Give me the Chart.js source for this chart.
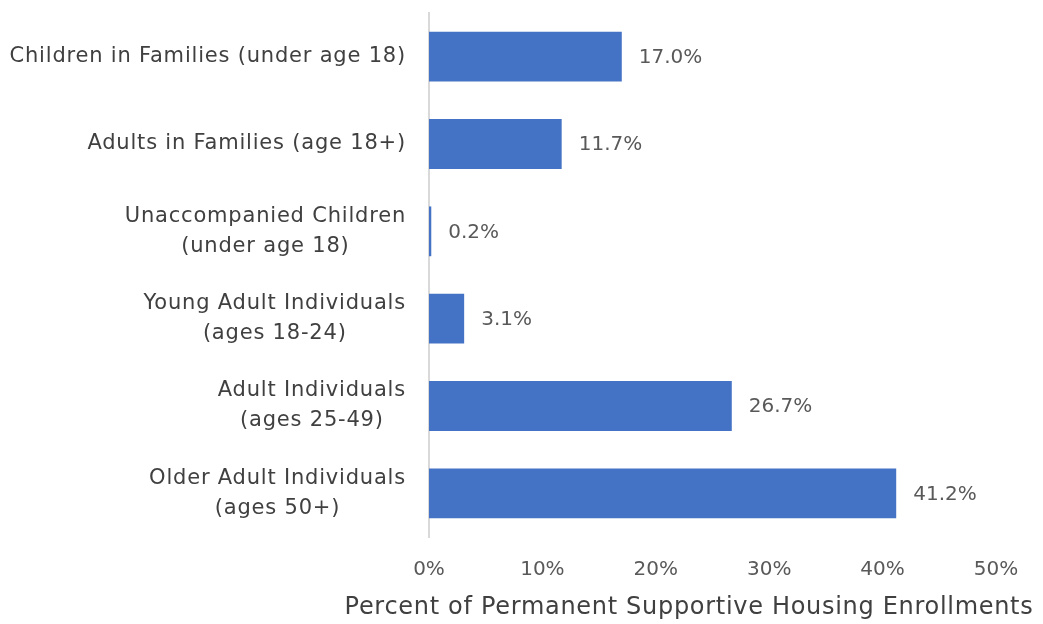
<!DOCTYPE html>
<html>
<head>
<meta charset="utf-8">
<script src="https://cdn.jsdelivr.net/npm/chart.js@4.4.1/dist/chart.umd.min.js"></script>
<style>
  body { margin: 0; background: #fff; }
  #wrap { width: 1043px; height: 624px; }
</style>
</head>
<body>
<div id="wrap"><canvas id="enrollChart" width="1043" height="624"></canvas></div>
<script>
// household types, one line per row of the label
var categories = [
    ['Children in Families (under age 18)'],
    ['Adults in Families (age 18+)'],
    ['Unaccompanied Children', '(under age 18)'],
    ['Young Adult Individuals', '(ages 18-24)'],
    ['Adult Individuals', '(ages 25-49)'],
    ['Older Adult Individuals', '(ages 50+)']
];
var shares = [17.0, 11.7, 0.2, 3.1, 26.7, 41.2];
var xTicks = [0, 10, 20, 30, 40, 50];
var axisTitle = 'Percent of Permanent Supportive Housing Enrollments';

var FONT = '"DejaVu Sans", sans-serif';

// category labels: each block right-aligned to the axis, lines centred within it
var categoryLabels = {
    id: 'categoryLabels',
    afterDraw: function(chart) {
        var ctx = chart.ctx;
        var yScale = chart.scales.y;
        var right = chart.chartArea.left - 23;
        var lineH = 30;
        ctx.save();
        ctx.font = '21px ' + FONT;
        ctx.letterSpacing = '0.8px';
        ctx.fillStyle = '#404040';
        ctx.textAlign = 'center';
        ctx.textBaseline = 'middle';
        categories.forEach(function(lines, i) {
            var w = Math.max.apply(null, lines.map(function(t) { return ctx.measureText(t).width; }));
            var cx = right - w / 2;
            var cy = yScale.getPixelForValue(i);
            var top = cy - (lines.length - 1) * lineH / 2;
            lines.forEach(function(t, j) {
                ctx.fillText(t, cx, top + j * lineH);
            });
        });

        // axis title
        ctx.font = '24px ' + FONT;
        ctx.letterSpacing = '0.7px';
        ctx.fillText(axisTitle, 689, 608);
        ctx.restore();
    }
};

// value next to the end of each bar
var valueLabels = {
    id: 'valueLabels',
    afterDatasetsDraw: function(chart) {
        var ctx = chart.ctx;
        var meta = chart.getDatasetMeta(0);
        ctx.save();
        ctx.font = '20px ' + FONT;
        ctx.fillStyle = '#595959';
        ctx.textAlign = 'left';
        ctx.textBaseline = 'middle';
        meta.data.forEach(function(bar, i) {
            ctx.fillText(shares[i].toFixed(1) + '%', bar.x + 17, bar.y + 1);
        });
        ctx.restore();
    }
};

var ctx = document.getElementById('enrollChart').getContext('2d');
new Chart(ctx, {
    type: 'bar',
    data: {
        labels: categories.map(function(l) { return l.join(' '); }),
        datasets: [{
            data: shares,
            backgroundColor: '#4472C4',
            barPercentage: 0.57,
            categoryPercentage: 1
        }]
    },
    options: {
        indexAxis: 'y',
        responsive: false,
        animation: false,
        layout: { padding: { top: 13, right: 47, bottom: 0, left: 0 } },
        plugins: {
            legend: { display: false },
            tooltip: { enabled: false }
        },
        scales: {
            x: {
                min: xTicks[0],
                max: xTicks[xTicks.length - 1],
                afterBuildTicks: function(scale) {
                    scale.ticks = xTicks.map(function(v) { return { value: v }; });
                },
                afterFit: function(scale) { scale.height = 87; },
                grid: { display: false, drawTicks: false },
                border: { display: false },
                ticks: {
                    padding: 21,
                    color: '#595959',
                    font: { family: FONT, size: 20 },
                    callback: function(v) { return v + '%'; }
                }
            },
            y: {
                afterFit: function(scale) { scale.width = 429; },
                grid: { display: false, drawTicks: false },
                border: { color: '#d9d9d9', width: 2 },
                ticks: { display: false }
            }
        }
    },
    plugins: [valueLabels, categoryLabels]
});
</script>
</body>
</html>
